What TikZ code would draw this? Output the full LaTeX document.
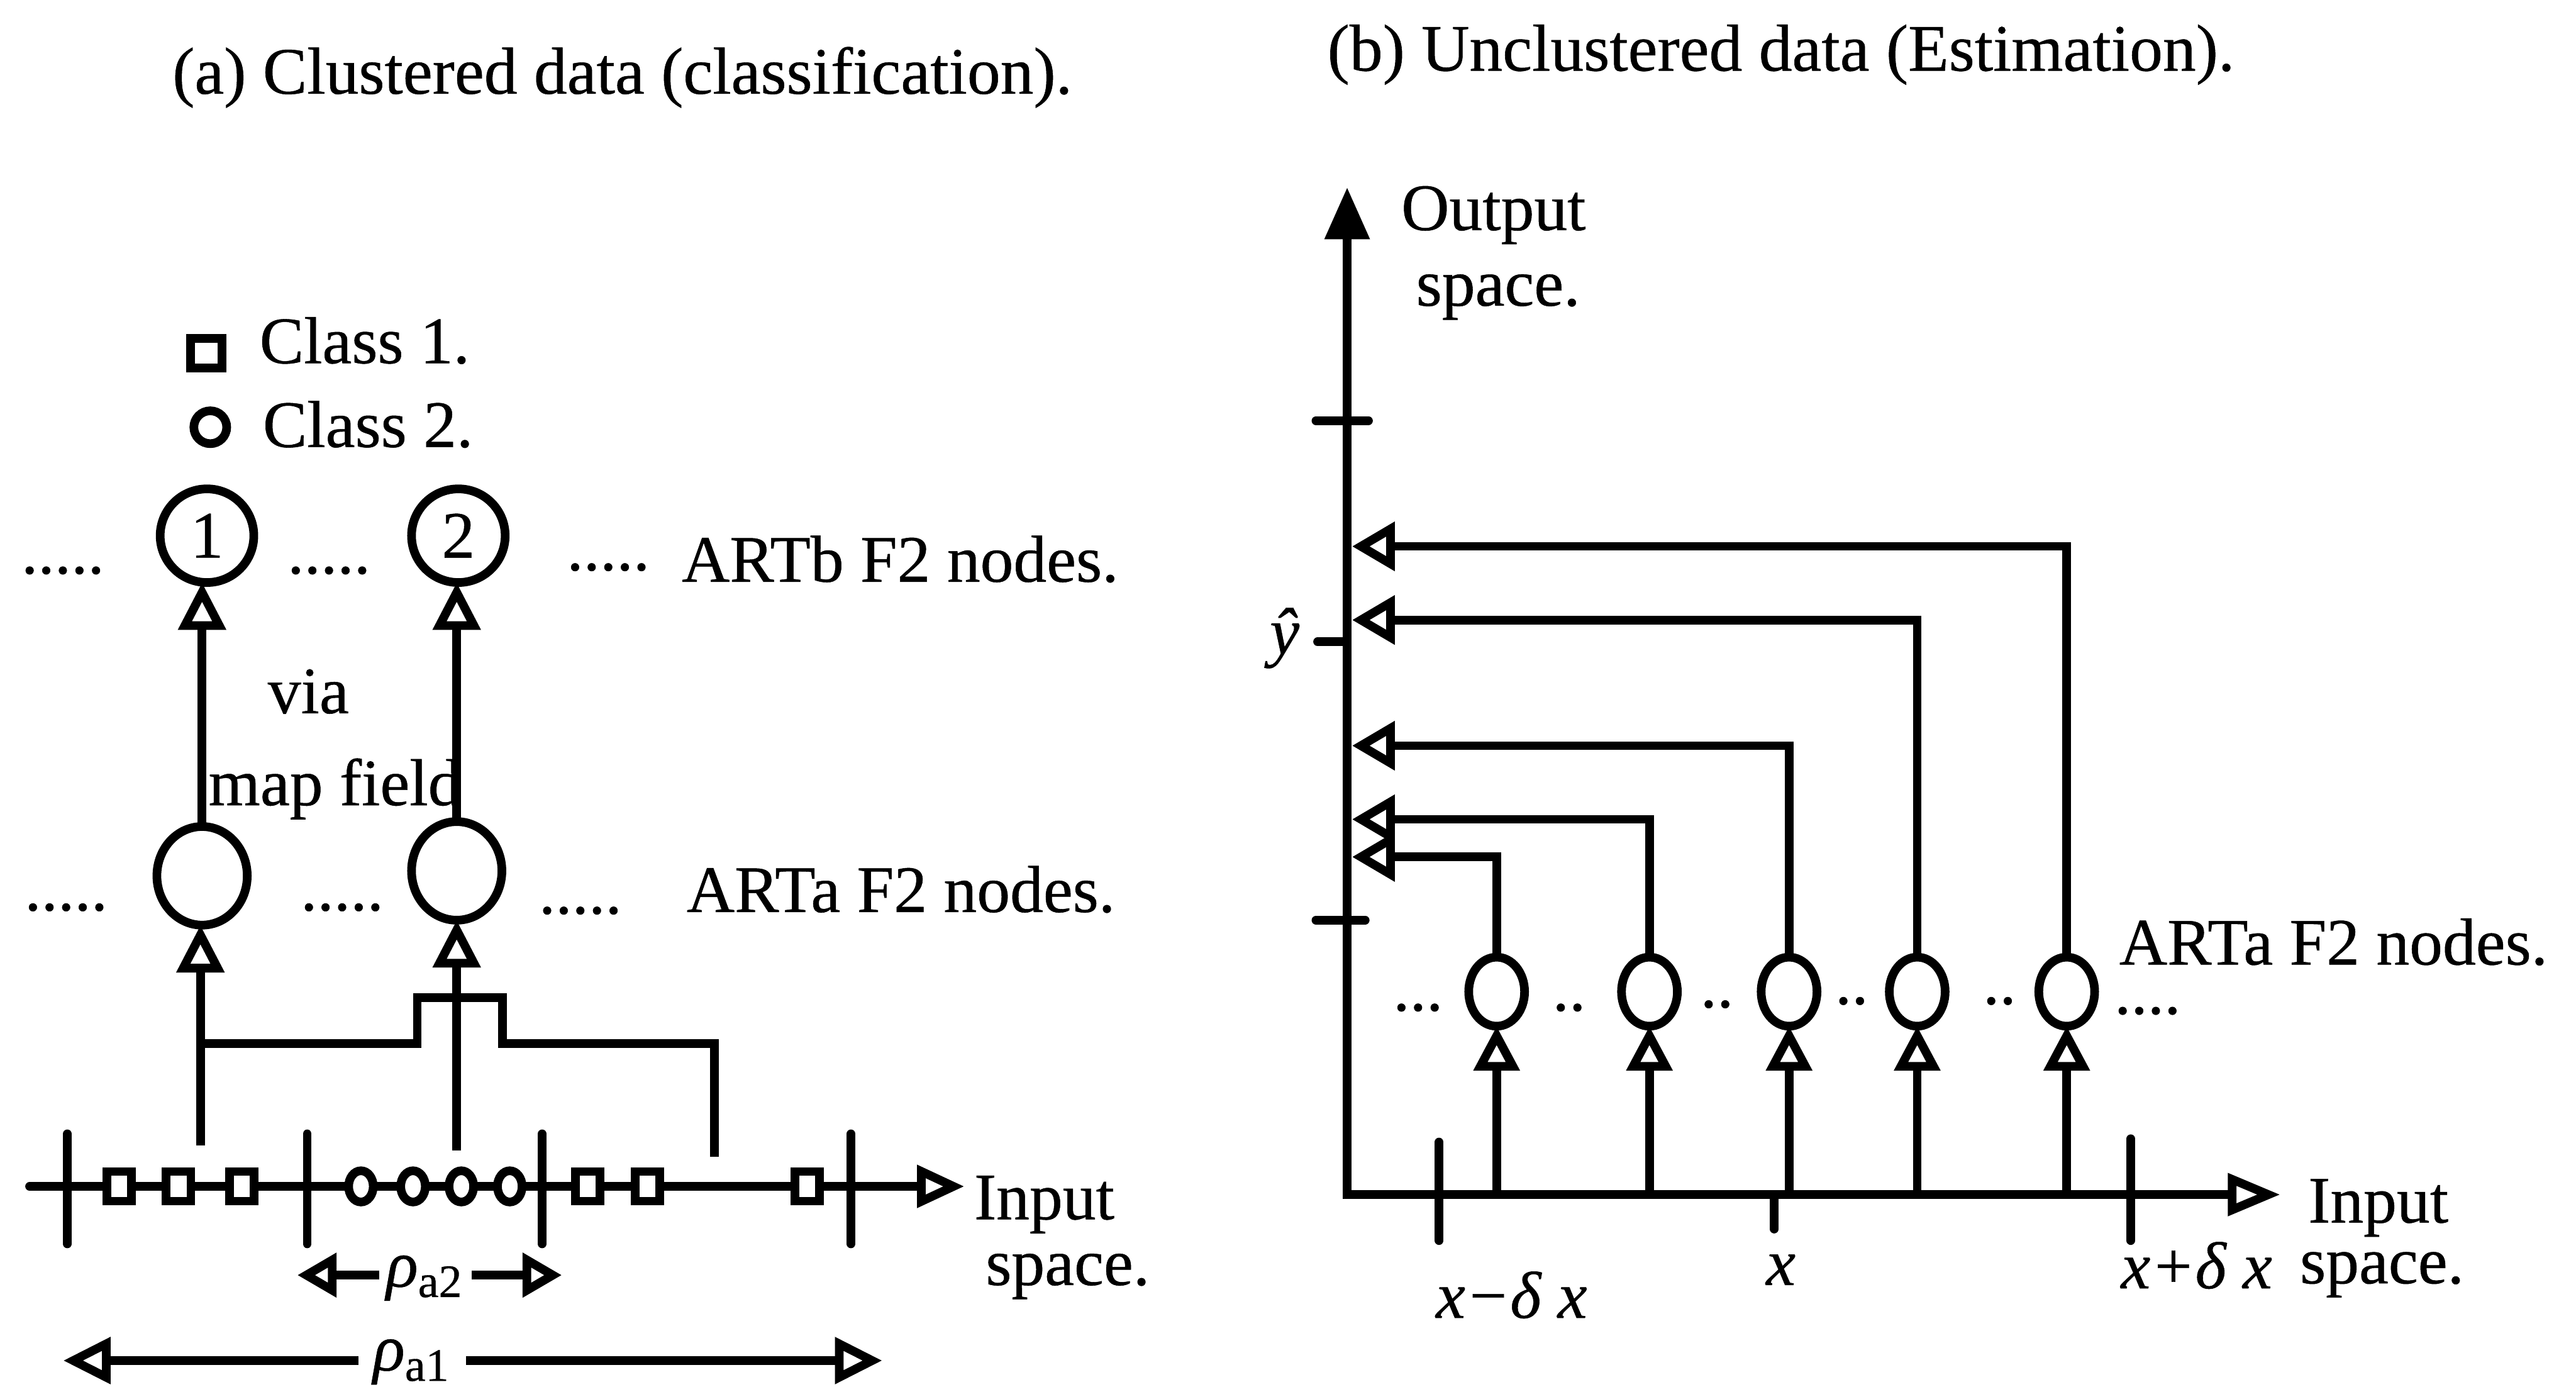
\documentclass[tikz,border=0pt]{standalone}
\usepackage{fontspec}
\setmainfont{Liberation Serif}[FakeBold=0.5]
\usetikzlibrary{arrows.meta,shapes.geometric}
\begin{document}
\begin{tikzpicture}[x=0.1mm,y=-0.1mm,line width=1.5pt,
  every node/.style={font=\fontsize{11.5}{13}\selectfont,inner sep=0pt,outer sep=0pt},
  lbl/.style={anchor=base west},
  oa/.style n args={2}{-{Triangle[open,length=#1,width=#2]}},
  bnode/.style={draw,circle,minimum size=5.7mm},
  anode/.style={draw,ellipse,minimum width=5.5mm,minimum height=6mm},
  enode/.style={draw,ellipse,minimum width=3.4mm,minimum height=4.2mm},
  sq/.style={draw,rectangle,fill=white,minimum width=1.5mm,minimum height=1.8mm},
  ci/.style={draw,ellipse,fill=white,minimum width=1.5mm,minimum height=1.9mm},
  tick/.style={line cap=round}]
\useasboundingbox (0,0) rectangle (1568,844);

% titles
\node[lbl] (ta) at (105,57) {(a) Clustered data (classification).};
\node[lbl] (tb) at (808,43) {(b) Unclustered data (Estimation).};

% ---------------- panel (a) ----------------
% legend
\node[draw,rectangle,minimum width=1.9mm,minimum height=1.8mm] (lsq) at (125.5,215) {};
\node[lbl] (lc1) at (158,221) {Class 1.};
\node[draw,circle,minimum size=2mm] (lci) at (128,260) {};
\node[lbl] (lc2) at (160,272) {Class 2.};

% ARTb row
\node[lbl] (bd1) at (13,349) {.....};
\node[bnode] (b1) at (126,326) {1};
\node[lbl] (bd2) at (175,349) {.....};
\node[bnode] (b2) at (279,326) {2};
\node[lbl] (bd3) at (345,347) {.....};
\node[lbl] (btxt) at (415,354) {ARTb F2 nodes.};

% map field labels
\node[lbl] (via) at (163,434) {via};
\node[lbl] (mapf) at (127,490) {map field};

% ARTa row
\node[lbl] (ad1) at (15,554) {.....};
\node[anode] (a1) at (123,533) {};
\node[lbl] (ad2) at (183,554) {.....};
\node[anode] (a2) at (278,530) {};
\node[lbl] (ad3) at (328,556) {.....};
\node[lbl] (atxt) at (418,555) {ARTa F2 nodes.};

% mapping arrows
\draw[oa={8.2pt}{8pt}] (a1.north) -- (a1.north |- b1.south);
\draw[oa={8.2pt}{8pt}] (a2.north) -- (a2.north |- b2.south);

% input axis (a)
\coordinate (ia0) at (18,722);
\coordinate (ia1) at (587,722);
\draw[oa={8.2pt}{7.1pt},line cap=round] (ia0) -- (ia1);
\foreach \x [count=\i] in {41,187,330,518}
  \draw[tick] (\x,690) coordinate (tk\i) -- (\x,757);
\foreach \x [count=\i] in {72.5,108.7,147.2,357.8,394,491.4}
  \node[sq] (sq\i) at (\x,722) {};
\foreach \x [count=\i] in {219.7,251.4,280.8,310.3}
  \node[ci] (ci\i) at (\x,722) {};
\node[lbl] (ina) at (593,742) {Input};
\node[lbl] (spa) at (600,782) {space.};

% inputs to ARTa
\coordinate (p1) at (122,697);
\coordinate (p2) at (278,700);
\coordinate (p3) at (435,704);
\coordinate (j1) at (122,635);
\draw[oa={8.2pt}{8pt}] (p1) -- (p1 |- a1.south);
\draw[oa={8.2pt}{8pt}] (p2) -- (p2 |- a2.south);
\draw (p3) |- (306,635) |- (254,607) |- (j1);

% rho arrows
\node[anchor=base,inner xsep=1.2pt] (r2) at (259,783) {\textit{ρ}\textsubscript{a2}};
\coordinate (r2l) at (181,776);
\coordinate (r2r) at (342,776);
\draw[oa={6.8pt}{7.4pt}] (r2.west |- r2l) -- (r2l);
\draw[oa={6.8pt}{7.4pt}] (r2.east |- r2r) -- (r2r);
\node[anchor=base,inner xsep=2.5pt] (r1) at (251,834) {\textit{ρ}\textsubscript{a1}};
\coordinate (r1l) at (38.5,828);
\coordinate (r1r) at (537,828);
\draw[oa={8.2pt}{7.8pt}] (r1.west |- r1l) -- (r1l);
\draw[oa={8.2pt}{7.8pt}] (r1.east |- r1r) -- (r1r);

% ---------------- panel (b) ----------------
\coordinate (o) at (820,727);
\coordinate (ytop) at (820,114);
\coordinate (xend) at (1388,727);
\draw[{Triangle[length=9pt,width=7.5pt]}-{Triangle[open,length=9.1pt,width=7.1pt]}]
  (ytop) -- (o) -- (xend);

% y ticks
\draw[tick] (801,256) -- (833,256);
\draw[tick] (801,560) -- (831,560);
\draw[tick] (802,390.6) -- (820,390.6);
\node[lbl] (yhat) at (773,398) {\textit{ŷ}};
\node[lbl] (outp) at (853,140) {Output};
\node[lbl] (outs) at (862,186) {space.};

% x ticks
\draw[tick] (876,695) -- (876,755);
\draw[tick] (1080,727) -- (1080,748);
\draw[tick] (1297,693) -- (1297,755);
\node[lbl] (xm) at (874,802) {\textit{x−δ x}};
\node[lbl] (xx) at (1075,782) {\textit{x}};
\node[lbl] (xp) at (1291,784) {\textit{x+δ x}};
\node[lbl] (inb) at (1405,744) {Input};
\node[lbl] (spb) at (1400,781) {space.};

% ARTa nodes (b)
\foreach \x [count=\i] in {911,1004,1089,1167,1258}
  \node[enode] (e\i) at (\x,603.5) {};
\node[lbl] (etxt) at (1290,587) {ARTa F2 nodes.};
\node[lbl] (ed1) at (848,615) {...};
\node[lbl] (ed2) at (945,615) {..};
\node[lbl] (ed3) at (1035,613) {..};
\node[lbl] (ed4) at (1117,611) {..};
\node[lbl] (ed5) at (1207,611) {..};
\node[lbl] (ed6) at (1287,617) {....};

% outputs to y axis
\coordinate (t1) at (823,332.5);
\coordinate (t2) at (823,377.3);
\coordinate (t3) at (823,453.8);
\coordinate (t4) at (823,498.6);
\coordinate (t5) at (823,521.5);
\draw[oa={7.4pt}{8.2pt}] (e5.north) |- (t1);
\draw[oa={7.4pt}{8.2pt}] (e4.north) |- (t2);
\draw[oa={7.4pt}{8.2pt}] (e3.north) |- (t3);
\draw[oa={7.4pt}{8.2pt}] (e2.north) |- (t4);
\draw[oa={7.4pt}{8.2pt}] (e1.north) |- (t5);

% inputs from x axis
\foreach \i in {1,...,5}
  \draw[oa={7.7pt}{7.7pt}] (e\i.south |- o) -- (e\i.south);
\end{tikzpicture}
\end{document}
